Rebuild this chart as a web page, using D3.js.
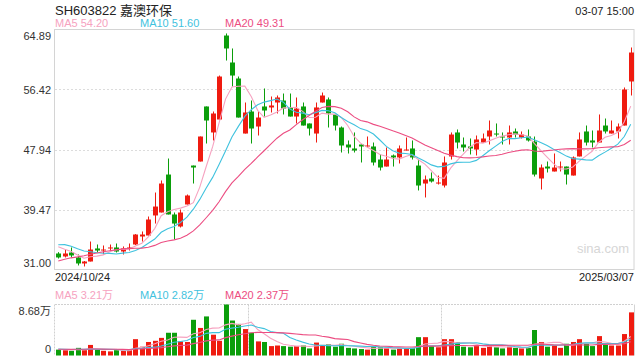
<!DOCTYPE html>
<html><head><meta charset="utf-8">
<script src="https://cdn.jsdelivr.net/npm/d3@7"></script>
<style>
body{margin:0;background:#fff;}
svg{display:block;font-family:Arial,"Liberation Sans","Noto Sans CJK SC",sans-serif;}
</style>
</head><body>
<svg id="chart" width="640" height="360"></svg>
<script>
// ---------- data ----------
const title = "SH603822 嘉澳环保";
const timeLabel = "03-07 15:00";
const startDate = "2024/10/24";
const endDate = "2025/03/07";
const priceTicks = [31.00, 39.47, 47.94, 56.42, 64.89];
const priceTickLabels = ["31.00", "39.47", "47.94", "56.42", "64.89"];
const volMax = 8.68;
const volTickLabels = ["0", "8.68万"];
const maPeriods = [5, 10, 20];
const priceMaLabels = ["MA5 54.20", "MA10 51.60", "MA20 49.31"];
const volMaLabels = ["MA5 3.21万", "MA10 2.82万", "MA20 2.37万"];

// closes before the visible window (only used to seed the moving averages)
const priorCloses = [28.5, 28.8, 29.2, 29.0, 29.6, 30.1, 30.4, 30.9, 31.2, 31.3,
  33.2, 35.1, 35.6, 35.3, 34.8, 35.0, 34.6, 34.3, 34.4];
const priorVolumes = [0.9, 1.1, 0.8, 1.0, 1.2, 0.9, 1.3, 1.0, 0.8, 1.1,
  1.5, 1.2, 1.0, 0.9, 1.4, 1.1, 1.0, 0.8, 1.2];

const open = [33.26,32.84,33.40,32.70,31.85,32.13,33.97,33.75,34.04,34.11,
  33.54,34.04,34.53,35.66,35.80,38.63,39.05,44.41,38.77,37.07,
  40.18,45.68,46.25,54.02,50.35,52.18,64.04,60.23,57.97,50.20,
  53.31,51.19,54.02,53.88,54.58,54.86,53.88,52.60,54.02,51.62,
  50.20,54.58,55.01,52.89,51.05,48.65,48.09,48.65,48.37,48.37,
  46.53,45.54,47.10,46.82,47.87,48.09,45.68,43.14,43.85,43.21,
  42.86,46.96,50.35,48.65,48.37,47.94,48.93,49.78,50.20,49.78,
  49.64,50.49,49.64,49.78,49.07,43.85,45.54,44.84,45.47,45.54,
  44.27,46.96,50.49,49.22,48.93,51.33,50.20,50.49,51.33,57.55];
const high = [33.45,33.82,34.11,33.12,32.20,34.95,34.53,34.39,34.53,34.67,
  34.25,34.67,36.00,36.37,38.48,41.87,43.57,46.67,39.05,39.47,
  41.59,45.68,49.78,54.02,53.31,58.39,64.33,62.21,58.25,54.58,
  54.86,53.31,56.56,55.43,55.57,55.85,55.85,55.29,54.58,51.62,
  54.58,55.99,55.29,52.89,51.19,49.22,50.35,48.65,49.78,48.93,
  47.24,48.23,47.24,48.51,49.64,49.22,46.53,44.27,44.70,44.27,
  46.96,50.35,50.77,49.64,49.50,49.92,50.20,52.04,51.62,50.35,
  51.33,50.91,50.49,50.77,49.78,45.83,46.25,47.38,46.25,45.54,
  46.96,50.35,51.33,50.63,52.89,52.32,52.04,51.62,56.70,62.35];
const low = [32.55,32.70,32.70,31.57,31.43,32.13,33.40,33.12,33.54,33.40,
  33.12,33.68,34.45,34.95,35.80,37.49,39.05,38.77,35.24,36.93,
  40.18,43.14,46.25,48.79,49.22,52.18,60.51,56.84,52.46,50.20,
  48.79,49.92,52.60,53.17,53.03,52.89,52.60,51.62,51.33,49.92,
  48.93,54.58,51.05,50.63,47.52,47.38,47.52,46.11,48.23,45.69,
  44.98,45.54,45.54,45.97,47.80,46.53,42.16,41.17,43.28,43.00,
  42.58,46.53,48.09,47.66,47.24,47.10,48.93,48.65,49.78,48.65,
  48.65,49.64,49.50,49.07,44.13,42.30,44.70,44.84,44.84,43.00,
  44.27,46.96,48.51,48.23,48.93,50.20,50.20,49.50,51.33,55.57];
const close = [32.70,33.26,32.98,31.85,32.13,33.82,33.68,33.82,34.11,33.54,
  33.97,34.11,35.94,35.94,38.06,39.89,43.14,38.77,37.49,39.05,
  41.45,45.40,49.78,52.04,53.03,58.25,62.21,58.39,52.46,53.17,
  50.91,52.46,53.45,54.16,55.29,53.73,52.60,53.73,51.33,50.91,
  53.88,55.57,53.03,51.33,48.51,48.23,47.80,48.37,48.51,46.11,
  45.40,46.53,46.82,48.09,47.94,46.82,42.86,43.71,43.43,43.28,
  46.11,50.06,48.93,48.23,48.09,49.36,49.50,50.63,50.06,49.64,
  50.35,50.06,50.06,49.22,44.41,45.40,45.26,45.40,45.54,44.41,
  46.82,49.36,48.93,48.93,50.63,50.49,50.63,51.19,56.42,61.64];
// volume in 万
const volume = [1.0,0.9,0.8,1.3,0.9,1.8,1.0,0.8,0.7,0.9,
  0.8,0.9,2.78,1.5,2.3,2.5,3.0,3.87,3.87,2.4,
  2.3,6.08,4.69,6.65,3.54,2.5,8.68,5.95,5.38,4.5,
  3.87,2.4,2.3,1.6,1.7,1.6,1.5,1.6,1.7,1.2,
  2.2,1.8,1.9,1.5,2.0,1.3,1.2,1.1,1.0,1.5,
  1.4,1.3,1.0,1.2,1.1,1.3,3.12,3.12,1.6,1.4,
  2.78,2.78,2.3,1.5,1.4,1.6,1.3,1.8,1.4,1.2,
  1.5,1.3,1.2,1.3,4.34,2.3,1.5,1.7,1.3,2.0,
  2.3,2.78,2.0,1.6,3.30,1.8,1.7,1.7,3.65,7.34];

// ---------- style / layout ----------
const UP = "#ef1b10", DOWN = "#0b9e0b";
const maColors = ["#f6a2c0", "#3fc2de", "#ec4d82"];
const L = 55, R = 634;
const pTop = 29.5, pBot = 269.5;
const vTop = 304.5, vBot = 355.5;

const svg = d3.select("#chart");
const n = close.length;
const idx = d3.range(n);

const x = d3.scaleBand().domain(idx).range([L, R]).paddingInner(0.22).paddingOuter(0.12);
const yP = d3.scaleLinear().domain([priceTicks[0], priceTicks[priceTicks.length - 1]]).range([pBot, pTop]);
const yV = d3.scaleLinear().domain([0, volMax]).range([vBot, vTop]);

function movingAvg(prior, arr, p) {
  const all = prior.concat(arr);
  const off = prior.length;
  return arr.map((_, i) => d3.mean(all.slice(off + i - p + 1, off + i + 1)));
}

// ---------- header ----------
svg.append("text").attr("x", L).attr("y", 15).attr("font-size", 13).attr("fill", "#222").text(title);
svg.append("text").attr("x", R).attr("y", 15).attr("font-size", 11).attr("fill", "#222")
  .attr("text-anchor", "end").text(timeLabel);
const legX = [L, 140, 225];
priceMaLabels.forEach((t, k) => svg.append("text").attr("x", legX[k]).attr("y", 27)
  .attr("font-size", 11).attr("fill", maColors[k]).text(t));

// ---------- price panel ----------
const gridG = svg.append("g");
gridG.selectAll("line").data(priceTicks.slice(1, -1)).join("line")
  .attr("x1", L).attr("x2", R).attr("y1", d => Math.round(yP(d)) + 0.5).attr("y2", d => Math.round(yP(d)) + 0.5)
  .attr("stroke", "#dcdcdc").attr("stroke-dasharray", "2,2");
svg.append("rect").attr("x", L - 0.5).attr("y", pTop).attr("width", R - L + 0.5).attr("height", pBot - pTop)
  .attr("fill", "none").attr("stroke", "#d4d4d4");

const axP = svg.append("g").attr("transform", `translate(${L},0)`)
  .call(d3.axisLeft(yP).tickValues(priceTicks).tickSize(0).tickPadding(4)
    .tickFormat((d, i) => priceTickLabels[i]));
axP.select(".domain").remove();
axP.selectAll("text").attr("font-size", 11).attr("fill", "#333")
  .attr("font-family", "Arial,'Liberation Sans',sans-serif")
  .attr("dy", (d, i) => i === 0 ? "-0.25em" : (i === priceTicks.length - 1 ? "0.95em" : "0.32em"));

svg.append("text").attr("x", 603).attr("y", 253).attr("text-anchor", "middle")
  .attr("font-size", 13).attr("fill", "#d6d6d6").text("sina.com");

// candles
const cx = i => Math.round(x(i) + x.bandwidth() / 2) + 0.5;
const cg = svg.append("g");
cg.selectAll("line").data(idx).join("line")
  .attr("x1", cx).attr("x2", cx)
  .attr("y1", i => yP(high[i])).attr("y2", i => yP(low[i]))
  .attr("stroke", i => close[i] >= open[i] ? UP : DOWN).attr("stroke-width", 1);
cg.selectAll("rect").data(idx).join("rect")
  .attr("x", i => cx(i) - 2.5).attr("width", 5)
  .attr("y", i => yP(Math.max(open[i], close[i])))
  .attr("height", i => Math.max(1, Math.abs(yP(open[i]) - yP(close[i]))))
  .attr("fill", i => close[i] >= open[i] ? UP : DOWN);

// moving averages
maPeriods.forEach((p, k) => {
  const ma = movingAvg(priorCloses, close, p);
  svg.append("path").datum(ma)
    .attr("d", d3.line().x((d, i) => x(i) + x.bandwidth() / 2).y(d => yP(d)))
    .attr("fill", "none").attr("stroke", maColors[k]).attr("stroke-width", 1.1);
});

// date labels
svg.append("text").attr("x", L).attr("y", 281).attr("font-size", 11).attr("fill", "#222").text(startDate);
svg.append("text").attr("x", R).attr("y", 281).attr("font-size", 11).attr("fill", "#222")
  .attr("text-anchor", "end").text(endDate);

// ---------- volume panel ----------
volMaLabels.forEach((t, k) => svg.append("text").attr("x", legX[k]).attr("y", 299)
  .attr("font-size", 11).attr("fill", maColors[k]).text(t));

svg.append("line").attr("x1", L).attr("x2", R).attr("y1", vTop).attr("y2", vTop)
  .attr("stroke", "#d0d0d0").attr("stroke-dasharray", "2,1");
[L - 0.5, Math.round(L + (R - L) / 3) + 0.5, Math.round(L + 2 * (R - L) / 3) + 0.5].forEach(xx =>
  svg.append("line").attr("x1", xx).attr("x2", xx).attr("y1", vTop).attr("y2", vBot)
    .attr("stroke", "#d0d0d0").attr("stroke-dasharray", "2,1"));
svg.append("line").attr("x1", R + 0.5).attr("x2", R + 0.5).attr("y1", vTop).attr("y2", vBot)
  .attr("stroke", "#d4d4d4");

const axV = svg.append("g").attr("transform", `translate(${L},0)`)
  .call(d3.axisLeft(yV).tickValues([0, volMax]).tickSize(0).tickPadding(4)
    .tickFormat((d, i) => volTickLabels[i]));
axV.select(".domain").remove();
axV.selectAll("text").attr("font-size", 11).attr("fill", "#333")
  .attr("font-family", "Arial,'Liberation Sans','Noto Sans CJK SC',sans-serif")
  .attr("dy", (d, i) => i === 0 ? "-0.25em" : "0.95em");

svg.append("g").selectAll("rect").data(idx).join("rect")
  .attr("x", i => cx(i) - 2.5).attr("width", 5)
  .attr("y", i => yV(volume[i])).attr("height", i => yV(0) - yV(volume[i]))
  .attr("fill", i => close[i] >= open[i] ? UP : DOWN);

maPeriods.forEach((p, k) => {
  const ma = movingAvg(priorVolumes, volume, p);
  svg.append("path").datum(ma)
    .attr("d", d3.line().x((d, i) => x(i) + x.bandwidth() / 2).y(d => yV(d)))
    .attr("fill", "none").attr("stroke", maColors[k]).attr("stroke-width", 1.1);
});
</script>
</body></html>
